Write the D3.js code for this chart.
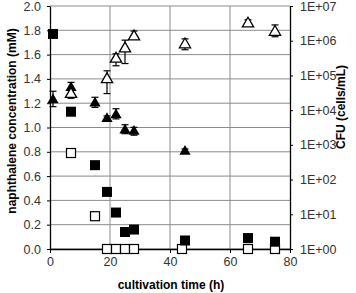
<!DOCTYPE html>
<html>
<head>
<meta charset="utf-8">
<script src="https://cdn.jsdelivr.net/npm/d3@7"></script>
<style>
  body { margin: 0; background: #fff; }
  text { font-family: "Liberation Sans", Arial, sans-serif; }
</style>
</head>
<body>
<svg id="chart" width="356" height="293"></svg>
<script>
// naphthalene (left axis, mM)
const naphTime = [1, 7, 15, 19, 22, 25, 28, 45, 66, 75]
const naphFilled = [1.77, 1.13, 0.69, 0.47, 0.30, 0.14, 0.16, 0.07, 0.09, 0.06]
const ctrlTime = [7, 15, 19, 22, 25, 28, 44, 66, 75]
const naphOpen = [0.79, 0.27, 0, 0, 0, 0, 0, 0, 0]

// CFU (right axis, cells/mL), with low / high of error bars
const cfuOpenTime = [7, 19, 22, 25, 28, 45, 66, 75]
const cfuOpen = [3.1e4, 8.2e4, 3.2e5, 6.3e5, 1.4e6, 8.3e5, 3.3e6, 1.9e6]
const cfuOpenLo = [2.2e4, 3.0e4, 1.9e5, 2.2e5, 1.2e6, 5.5e5, 2.7e6, 1.3e6]
const cfuOpenHi = [4.2e4, 1.36e5, 4.2e5, 1.04e6, 1.9e6, 1.13e6, 4.0e6, 2.85e6]

const cfuFilledTime = [1, 7, 15, 19, 22, 25, 28, 45]
const cfuFilled = [2.1e4, 4.7e4, 1.7e4, 6.0e3, 7.8e3, 2.8e3, 2.6e3, 6.9e2]
const cfuFilledLo = [1.26e4, 3.8e4, 1.2e4, 5.3e3, 5.6e3, 2.1e3, 1.9e3, 6.2e2]
const cfuFilledHi = [3.5e4, 6.3e4, 2.35e4, 6.8e3, 1.1e4, 3.8e3, 3.2e3, 7.6e2]

const leftTicks = [0, 0.2, 0.4, 0.6, 0.8, 1.0, 1.2, 1.4, 1.6, 1.8, 2.0]
const rightTicks = [1e0, 1e1, 1e2, 1e3, 1e4, 1e5, 1e6, 1e7]
const timeTicks = [0, 20, 40, 60, 80]

const svg = d3.select("#chart")
const m = {left: 50, right: 290, top: 6, bottom: 249}

const x = d3.scaleLinear().domain([0, 80]).range([m.left, m.right])
const y = d3.scaleLinear().domain([0, 2]).range([m.bottom, m.top])
const yr = d3.scaleLog().domain([1, 1e7]).range([m.bottom, m.top])

// grid
const grid = svg.append("g")
grid.selectAll(".hg").data(leftTicks).enter().append("line")
    .attr("x1", m.left).attr("x2", m.right)
    .attr("y1", d => y(d)).attr("y2", d => y(d))
    .attr("stroke", "#8c8c8c").attr("stroke-width", 1)
grid.selectAll(".vg").data(timeTicks.slice(1, 4)).enter().append("line")
    .attr("x1", d => x(d)).attr("x2", d => x(d))
    .attr("y1", m.top).attr("y2", m.bottom)
    .attr("stroke", "#8c8c8c").attr("stroke-width", 1)

// axes
const fmt = d3.format(".1f")
const gl = svg.append("g").attr("transform", `translate(${m.left},0)`)
    .call(d3.axisLeft(y).tickValues(leftTicks).tickFormat(fmt).tickSize(3).tickSizeOuter(0))
const gb = svg.append("g").attr("transform", `translate(0,${m.bottom})`)
    .call(d3.axisBottom(x).tickValues(timeTicks).tickSize(4).tickSizeOuter(0))
const gr = svg.append("g").attr("transform", `translate(${m.right},0)`)
    .call(d3.axisRight(yr).tickValues(rightTicks).tickSize(3).tickSizeOuter(0)
        .tickFormat(d => "1E+" + String(Math.round(Math.log10(d))).padStart(2, "0")))

for (const g of [gl, gb, gr]) {
    g.select(".domain").attr("stroke", "#000").attr("stroke-width", 1.3)
    g.selectAll(".tick line").attr("stroke", "#000")
    g.selectAll(".tick text").attr("font-size", 12.5).attr("fill", "#333")
        .attr("font-family", "Liberation Sans, Arial, sans-serif")
}
gl.selectAll(".tick text").attr("x", -9)
gb.selectAll(".tick text").attr("y", 8)
gr.selectAll(".tick text").attr("x", 10)

// axis titles
svg.append("text").attr("transform", "translate(16,121) rotate(-90)")
    .attr("text-anchor", "middle").attr("font-size", 12).attr("font-weight", "bold")
    .text("naphthalene concentration (mM)")
svg.append("text").attr("transform", "translate(345,107) rotate(-90)")
    .attr("text-anchor", "middle").attr("font-size", 12).attr("font-weight", "bold")
    .text("CFU (cells/mL)")
svg.append("text").attr("x", 171).attr("y", 289)
    .attr("text-anchor", "middle").attr("font-size", 12).attr("font-weight", "bold")
    .text("cultivation time (h)")

// error bars
function errorBars(times, lo, hi) {
    const g = svg.append("g").attr("stroke", "#000").attr("stroke-width", 1.2)
    times.forEach((t, i) => {
        const cx = x(t)
        g.append("line").attr("x1", cx).attr("x2", cx).attr("y1", yr(lo[i])).attr("y2", yr(hi[i]))
        g.append("line").attr("x1", cx - 3.5).attr("x2", cx + 3.5).attr("y1", yr(lo[i])).attr("y2", yr(lo[i]))
        g.append("line").attr("x1", cx - 3.5).attr("x2", cx + 3.5).attr("y1", yr(hi[i])).attr("y2", yr(hi[i]))
    })
}
errorBars(cfuFilledTime, cfuFilledLo, cfuFilledHi)
errorBars(cfuOpenTime, cfuOpenLo, cfuOpenHi)

const tri = d3.symbol().type(d3.symbolTriangle).size(55)

svg.append("g").selectAll("path").data(cfuFilledTime).enter().append("path")
    .attr("d", tri)
    .attr("transform", (d, i) => `translate(${x(d)},${yr(cfuFilled[i]) + 1})`)
    .attr("fill", "#000")

svg.append("g").selectAll("path").data(cfuOpenTime).enter().append("path")
    .attr("d", tri)
    .attr("transform", (d, i) => `translate(${x(d)},${yr(cfuOpen[i]) + 1})`)
    .attr("fill", "#fff").attr("stroke", "#000").attr("stroke-width", 1.3)

// squares
svg.append("g").selectAll("rect").data(ctrlTime).enter().append("rect")
    .attr("x", d => x(d) - 4.5).attr("y", (d, i) => y(naphOpen[i]) - 4.5)
    .attr("width", 9).attr("height", 9)
    .attr("fill", "#fff").attr("stroke", "#000").attr("stroke-width", 1.2)

svg.append("g").selectAll("rect").data(naphTime).enter().append("rect")
    .attr("x", d => x(d) - 5).attr("y", (d, i) => y(naphFilled[i]) - 5)
    .attr("width", 10).attr("height", 10)
    .attr("fill", "#000")
</script>
</body>
</html>
